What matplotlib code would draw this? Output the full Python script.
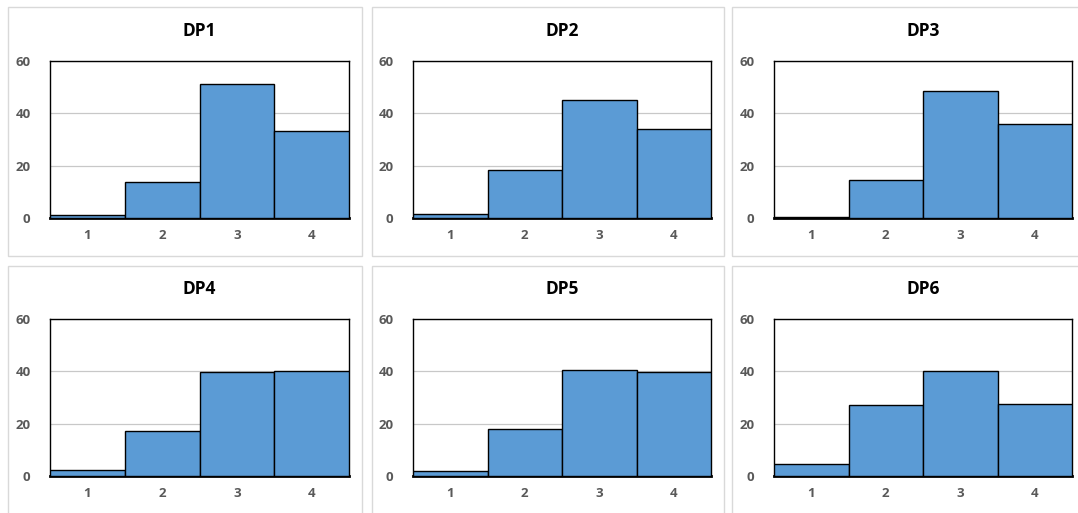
import matplotlib.pyplot as plt
from matplotlib.patches import Rectangle

# values (percent per response level)
levels = [1, 2, 3, 4]
titles = ["DP1", "DP2", "DP3", "DP4", "DP5", "DP6"]
dp1 = [1.2, 13.8, 51.2, 33.3]
dp2 = [1.5, 18.5, 45.2, 34.2]
dp3 = [0.3, 14.7, 48.5, 35.9]
dp4 = [2.4, 17.3, 39.9, 40.2]
dp5 = [1.8, 17.9, 40.4, 39.9]
dp6 = [4.4, 27.3, 40.3, 27.6]
yticks = [0, 20, 40, 60]

series = [dp1, dp2, dp3, dp4, dp5, dp6]

W, H = 1078, 513
fig = plt.figure(figsize=(W / 100, H / 100), dpi=100)
plt.rcParams['font.family'] = ['Open Sans', 'DejaVu Sans']

bar_color = "#5B9BD5"
tick_color = "#595959"

# pixel boxes: panel frames and plot areas
panel_x = [(8, 362), (372, 724), (732, 1090)]
panel_y = [(7, 256), (266, 530)]
plot_x = [(50, 349), (413, 711), (774, 1072)]
plot_y = [(61, 218), (319, 476)]


def fx(px):
    return px / W


def fy(py):
    return 1 - py / H


for i, (title, vals) in enumerate(zip(titles, series)):
    r, c = divmod(i, 3)
    # light grey chart frame
    px0, px1 = panel_x[c]
    py0, py1 = panel_y[r]
    fig.patches.append(Rectangle((fx(px0), fy(py1)), fx(px1 - px0), (py1 - py0) / H,
                                 transform=fig.transFigure, fill=False,
                                 edgecolor="#D9D9D9", linewidth=1, zorder=0))

    x0, x1 = plot_x[c]
    y0, y1 = plot_y[r]
    ax = fig.add_axes([fx(x0), fy(y1), fx(x1 - x0), (y1 - y0) / H])
    ax.bar(levels, vals, width=1.0, color=bar_color, edgecolor="black",
           linewidth=1.0, zorder=3)
    ax.set_xlim(0.5, 4.5)
    ax.set_ylim(0, 60)
    ax.set_yticks(yticks)
    ax.set_xticks(levels)
    ax.yaxis.grid(True, color="#C8C8C8", linewidth=0.9, zorder=0)
    ax.set_axisbelow(True)
    for s in ax.spines.values():
        s.set_color("black")
        s.set_linewidth(1.0)
    ax.spines["bottom"].set_linewidth(2.0)
    ax.tick_params(length=0, colors=tick_color, labelsize=9.5, pad=8)
    ax.tick_params(axis="y", pad=14)
    for lab in ax.get_xticklabels() + ax.get_yticklabels():
        lab.set_fontweight("bold")
    ax.set_title(title, fontsize=12.5, fontweight="bold", color="black", pad=18)

fig.savefig("out.png", dpi=100)
